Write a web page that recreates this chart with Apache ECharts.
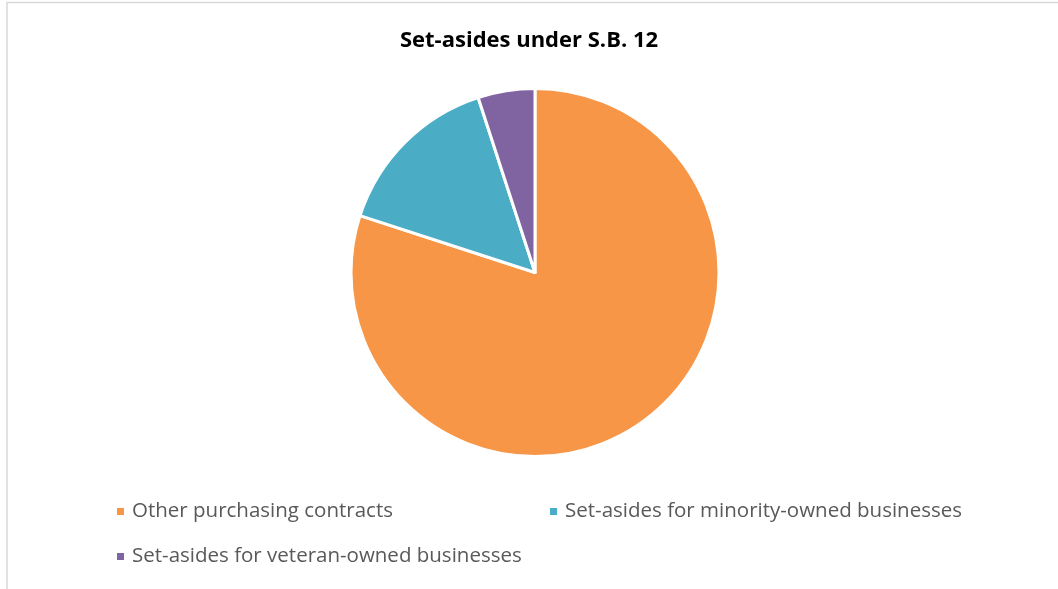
<!DOCTYPE html>
<html><head><meta charset="utf-8">
<script src="https://cdn.jsdelivr.net/npm/echarts@6/dist/echarts.min.js"></script>
<style>html,body{margin:0;padding:0;background:#fff;}#c{width:1058px;height:589px;}</style>
</head><body><div id="c"></div>
<script>
const titleText = 'Set-asides under S.B. 12';
const categories = ['Other purchasing contracts', 'Set-asides for minority-owned businesses', 'Set-asides for veteran-owned businesses'];
const values = [80, 15, 5];
const colors = ['#F79646', '#4BACC6', '#8064A2'];

const chart = echarts.init(document.getElementById('c'));
const legendPos = [[110, 496], [543, 496], [110, 541]];
const FONT = 'Open Sans';
chart.setOption({
  animation: false,
  color: colors,
  title: {
    text: titleText, left: 'center', top: 25,
    textStyle: {fontFamily: FONT, fontWeight: 'bold', fontSize: 22, color: '#000'}
  },
  graphic: [{
    type: 'rect', shape: {x: 7, y: 2.5, width: 1100, height: 700},
    style: {fill: 'none', stroke: '#d9d9d9', lineWidth: 1.5}, silent: true
  }],
  legend: categories.map((name, i) => ({
    data: [name], left: legendPos[i][0], top: legendPos[i][1],
    icon: 'rect', itemWidth: 9, itemHeight: 9, itemGap: 0,
    textStyle: {fontFamily: FONT, fontSize: 20.5, color: '#595959', padding: [0, 0, 0, 2]}
  })),
  series: [{
    type: 'pie', center: [535, 272.5], radius: 184,
    startAngle: 90, clockwise: true,
    label: {show: false}, labelLine: {show: false},
    itemStyle: {borderColor: '#fff', borderWidth: 3},
    emphasis: {disabled: true},
    data: categories.map((n, i) => ({name: n, value: values[i]}))
  }]
});
</script></body></html>
